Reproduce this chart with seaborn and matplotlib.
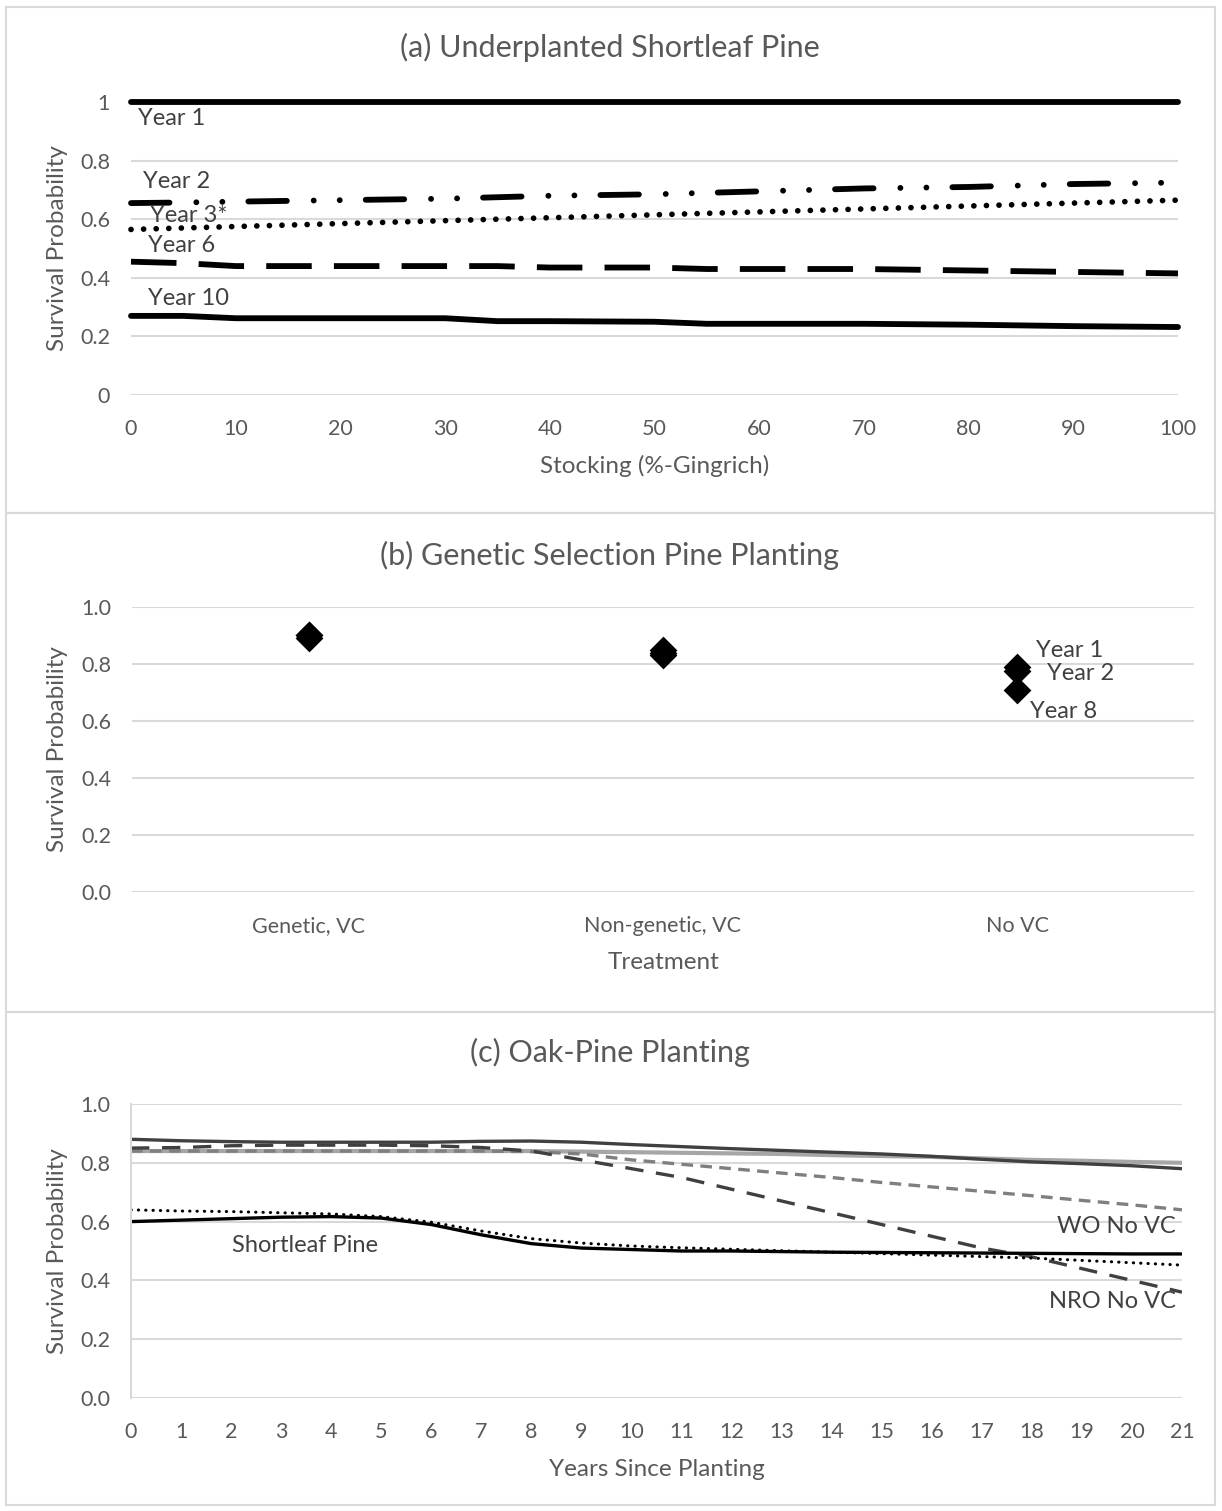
import numpy as np
import pandas as pd
import matplotlib
matplotlib.use("Agg")
import matplotlib.pyplot as plt
import seaborn as sns
from matplotlib.patches import Rectangle

# ===== DATA =====
# (a) underplanted shortleaf pine, survival vs stocking
stocking = [0, 5, 10, 20, 30, 35, 40, 50, 55, 60, 70, 80, 90, 100]
year1_a = [1.0] * 14
year2_a = [0.655, 0.657, 0.66, 0.665, 0.67, 0.675, 0.68, 0.685, 0.69, 0.695, 0.705, 0.71, 0.72, 0.725]
year3_a = [0.565, 0.57, 0.575, 0.585, 0.595, 0.60, 0.605, 0.615, 0.62, 0.625, 0.635, 0.645, 0.655, 0.665]
year6_a = [0.455, 0.45, 0.44, 0.44, 0.44, 0.44, 0.435, 0.435, 0.43, 0.43, 0.43, 0.425, 0.42, 0.415]
year10_a = [0.27, 0.27, 0.262, 0.262, 0.262, 0.252, 0.252, 0.25, 0.243, 0.243, 0.243, 0.24, 0.235, 0.232]

# (b) genetic selection pine planting
treatments = ["Genetic, VC", "Non-genetic, VC", "No VC"]
year1_b = [0.90, 0.85, 0.79]
year2_b = [0.90, 0.84, 0.775]
year8_b = [0.89, 0.83, 0.71]

# (c) oak-pine planting, survival vs years since planting
years = list(range(22))
oak_dark = [0.88, 0.875, 0.872, 0.87, 0.87, 0.87, 0.87, 0.873, 0.874, 0.87, 0.862, 0.855, 0.848,
            0.842, 0.836, 0.83, 0.822, 0.812, 0.803, 0.797, 0.79, 0.78]
oak_light = [0.84, 0.84, 0.84, 0.84, 0.84, 0.84, 0.84, 0.84, 0.84, 0.838, 0.836, 0.834, 0.832,
             0.83, 0.826, 0.823, 0.82, 0.815, 0.81, 0.807, 0.803, 0.80]
nro_novc = [0.85, 0.852, 0.858, 0.86, 0.86, 0.86, 0.858, 0.852, 0.84, 0.81, 0.78, 0.75, 0.71,
            0.67, 0.63, 0.59, 0.55, 0.51, 0.48, 0.44, 0.40, 0.36]
wo_novc = [0.84, 0.84, 0.84, 0.84, 0.84, 0.84, 0.84, 0.84, 0.838, 0.83, 0.81, 0.795, 0.78,
           0.765, 0.75, 0.733, 0.718, 0.703, 0.688, 0.672, 0.657, 0.64]
pine_solid = [0.60, 0.605, 0.61, 0.615, 0.617, 0.612, 0.59, 0.555, 0.525, 0.51, 0.505, 0.50, 0.50,
              0.498, 0.496, 0.495, 0.494, 0.493, 0.492, 0.491, 0.49, 0.49]
pine_dotted = [0.64, 0.636, 0.634, 0.63, 0.626, 0.617, 0.598, 0.568, 0.542, 0.527, 0.517, 0.511, 0.506,
               0.501, 0.496, 0.491, 0.486, 0.481, 0.476, 0.468, 0.46, 0.452]

# ===== STYLE =====
sns.set_theme(style="white")
plt.rcParams['font.family'] = ['Lato', 'DejaVu Sans']
TXT = "#595959"
LAB = "#404040"
GRID = "#d9d9d9"

W, H = 1222, 1511
fig = plt.figure(figsize=(W / 100, H / 100), dpi=100)


def px_axes(left, top, right, bottom):
    return fig.add_axes([left / W, 1 - bottom / H, (right - left) / W, (bottom - top) / H])


def style_axes(ax, ylabels, xlabel, title, title_y):
    ax.set_ylim(0, 1)
    ax.set_yticks(np.arange(0, 1.01, 0.2))
    ax.set_yticklabels(ylabels)
    for s in ax.spines.values():
        s.set_visible(False)
    ax.yaxis.grid(True, color=GRID, linewidth=1.5)
    ax.set_axisbelow(True)
    ax.tick_params(axis="both", length=0, labelsize=15.5, labelcolor=TXT)
    ax.tick_params(axis="y", pad=15)
    ax.tick_params(axis="x", pad=17)
    bb = ax.get_position()
    wpx = bb.width * W
    hpx = bb.height * H
    ax.set_ylabel("Survival Probability", fontsize=17.5, color=TXT)
    ax.yaxis.set_label_coords(-(bb.x0 * W - 58) / wpx, 0.5)
    ax.set_xlabel(xlabel, fontsize=17.5, color=TXT)
    ax.xaxis.set_label_coords(0.5, -71 / hpx)
    ax.xaxis.label.set_va("center")
    ax.yaxis.label.set_va("center")
    fig.text(610 / W, 1 - title_y / H, title, fontsize=22, color=TXT, ha="center", va="center")


# panel borders
for top, bottom in [(7, 513), (513, 1012), (1012, 1505)]:
    fig.add_artist(Rectangle((6 / W, 1 - bottom / H), (1215 - 6) / W, (bottom - top) / H,
                             transform=fig.transFigure, fill=False, edgecolor=GRID, linewidth=1.5))

# ===== (a) =====
ax = px_axes(131, 102, 1178, 395)
lw = 4.2
sns.lineplot(x=stocking, y=year1_a, ax=ax, color="black", linewidth=lw, clip_on=False)
sns.lineplot(x=stocking, y=year2_a, ax=ax, color="black", linewidth=lw, clip_on=False,
             linestyle=(0, (6.6, 4.6, 0.01, 4.45, 0.01, 4.45)), dash_capstyle="round")
sns.lineplot(x=stocking, y=year3_a, ax=ax, color="black", linewidth=4.1, clip_on=False,
             linestyle=(0, (0.01, 2.2)), dash_capstyle="round")
sns.lineplot(x=stocking, y=year6_a, ax=ax, color="black", linewidth=lw, clip_on=False,
             linestyle=(0, (7.8, 3.8)))
sns.lineplot(x=stocking, y=year10_a, ax=ax, color="black", linewidth=lw, clip_on=False)
ax.set_xlim(0, 100)
ax.set_xticks(range(0, 101, 10))
style_axes(ax, ["0", "0.2", "0.4", "0.6", "0.8", "1"], "Stocking (%-Gingrich)",
           "(a) Underplanted Shortleaf Pine", 47)
lab = dict(fontsize=17, color=LAB, va="center")
ax.text(0.67, 0.945, "Year 1", **lab)
ax.text(1.15, 0.727, "Year 2", **lab)
ax.text(1.8, 0.614, "Year 3*", **lab)
ax.text(1.6, 0.509, "Year 6", **lab)
ax.text(1.6, 0.328, "Year 10", **lab)

# ===== (b) =====
ax = px_axes(132, 607, 1194, 892)
df_b = pd.DataFrame({
    "Treatment": treatments * 3,
    "Survival": year1_b + year2_b + year8_b,
    "Year": ["Year 1"] * 3 + ["Year 2"] * 3 + ["Year 8"] * 3,
})
df_b["pos"] = df_b["Treatment"].map({t: i for i, t in enumerate(treatments)})
sns.scatterplot(data=df_b, x="pos", y="Survival", ax=ax, marker="D", s=200,
                color="black", edgecolor="black", linewidth=0, legend=False)
ax.set_xlim(-0.5, 2.5)
ax.set_xticks(range(3))
ax.set_xticklabels(treatments)
style_axes(ax, [f"{v:.1f}" for v in np.arange(0, 1.01, 0.2)], "Treatment",
           "(b) Genetic Selection Pine Planting", 555)
ax.text(2.054, 0.846, "Year 1", **lab)
ax.text(2.085, 0.765, "Year 2", **lab)
ax.text(2.037, 0.635, "Year 8", **lab)

# ===== (c) =====
ax = px_axes(131, 1104, 1182, 1398)
sns.lineplot(x=years, y=oak_light, ax=ax, color="#a6a6a6", linewidth=3)
sns.lineplot(x=years, y=oak_dark, ax=ax, color="#404040", linewidth=2.4)
sns.lineplot(x=years, y=wo_novc, ax=ax, color="#7f7f7f", linewidth=2.4,
             linestyle=(0, (3.5, 2.2)))
sns.lineplot(x=years, y=nro_novc, ax=ax, color="#404040", linewidth=2.4,
             linestyle=(0, (5.5, 3.8)))
sns.lineplot(x=years, y=pine_solid, ax=ax, color="black", linewidth=2.4)
sns.lineplot(x=years, y=pine_dotted, ax=ax, color="black", linewidth=2.2,
             linestyle=(0, (0.1, 2.3)), dash_capstyle="round")
ax.set_xlim(0, 21)
ax.set_xticks(years)
style_axes(ax, [f"{v:.1f}" for v in np.arange(0, 1.01, 0.2)], "Years Since Planting",
           "(c) Oak-Pine Planting", 1052)
ax.spines["left"].set_visible(True)
ax.spines["left"].set_color(GRID)
ax.spines["left"].set_linewidth(1.5)
ax.text(2.02, 0.52, "Shortleaf Pine", **lab)
ax.text(20.88, 0.582, "WO No VC", ha="right", **lab)
ax.text(20.88, 0.327, "NRO No VC", ha="right", **lab)

fig.savefig("out.png", dpi=100)
